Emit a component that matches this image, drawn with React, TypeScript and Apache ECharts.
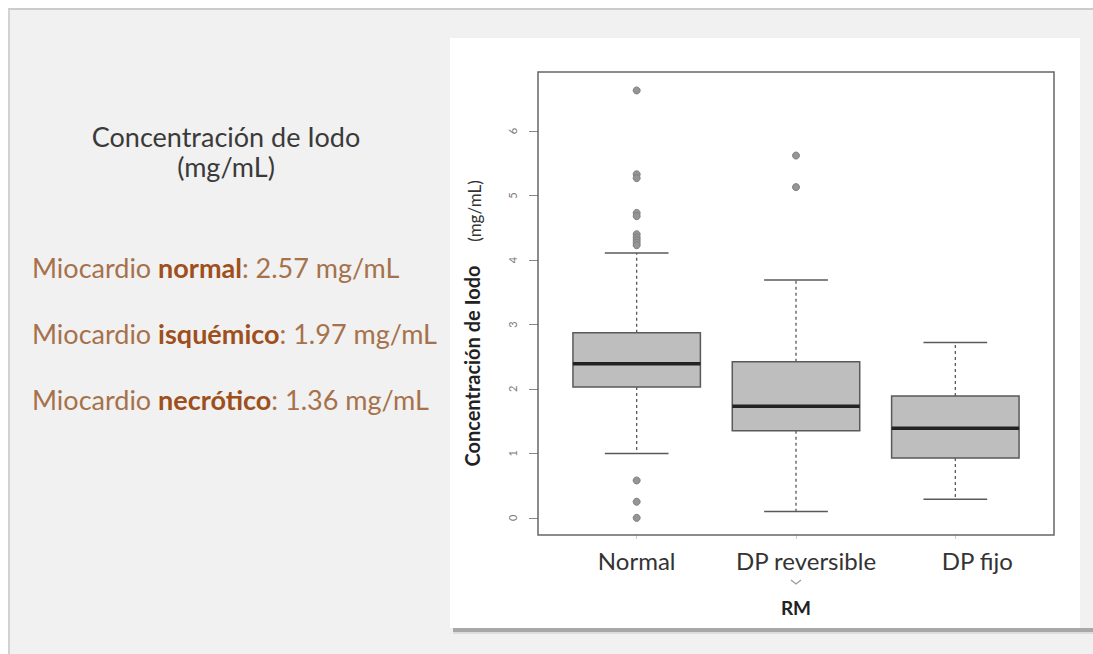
import React, { useEffect, useRef } from 'react';
import * as echarts from 'echarts';

// ---- data ----
const categories = ['Normal', 'DP reversible', 'DP fijo'];
const lowerWhisker = [1.0, 0.1, 0.29];
const q1 = [2.03, 1.35, 0.93];
const median = [2.39, 1.73, 1.39];
const q3 = [2.87, 2.42, 1.89];
const upperWhisker = [4.11, 3.69, 2.72];
const outlierGroup = [0, 0, 0, 0, 0, 0, 0, 0, 0, 0, 0, 0, 0, 1, 1];
const outlierValues = [6.63, 5.33, 5.27, 4.73, 4.68, 4.4, 4.35, 4.31, 4.27, 4.23, 0.58, 0.25, 0.0, 5.62, 5.13];
const yTicks = [0, 1, 2, 3, 4, 5, 6];
const yMin = -0.266;
const yMax = 6.916;
const summaryGroups = ['normal', 'isquémico', 'necrótico'];
const summaryMeans = ['2.57', '1.97', '1.36'];
const titleLines = ['Concentración de Iodo', '(mg/mL)'];
const yNameMain = 'Concentración de Iodo';
const yNameUnit = '(mg/mL)';
const xName = 'RM';

const FONT = 'Lato, "Open Sans", sans-serif';
// horizontal nudge (px) of each category label, as placed on the slide
const labelShift = [0, 10, 22];

export default function App() {
  const ref = useRef<HTMLDivElement>(null);
  useEffect(() => {
    if (!ref.current) return;
    const chart = echarts.init(ref.current, undefined, { renderer: 'svg' });

    const boxData = categories.map((_, i) => [i, lowerWhisker[i], q1[i], median[i], q3[i], upperWhisker[i]]);
    const outliers = outlierGroup.map((g, k) => [g, outlierValues[k]]);

    const labelRich: any = {};
    labelShift.forEach((s, i) => {
      labelRich['c' + i] = { fontSize: 24, color: '#333333', fontFamily: FONT, padding: [0, 0, 0, s * 2] };
    });

    const summaryTexts = summaryGroups.map((g, i) => ({
      type: 'text',
      x: 32,
      y: 267 + i * 66,
      z: 10,
      style: {
        text: `{n|Miocardio }{b|${g}}{n|: ${summaryMeans[i]} mg/mL}`,
        verticalAlign: 'middle',
        align: 'left',
        rich: {
          n: { fontSize: 27, fontFamily: FONT, fill: '#a6714b', color: '#a6714b' },
          b: { fontSize: 27, fontFamily: FONT, fontWeight: 'bold', fill: '#9e4f1c', color: '#9e4f1c' },
        },
      },
    }));

    const option: any = {
      animation: false,
      backgroundColor: '#ffffff',
      grid: { left: 557, right: 58, top: 72, bottom: 119, containLabel: false },
      xAxis: {
        type: 'category',
        data: categories,
        boundaryGap: true,
        axisLine: { show: false, onZero: false },
        axisTick: { show: true, length: 4, alignWithLabel: true, lineStyle: { color: '#cccccc' } },
        axisLabel: {
          interval: 0,
          hideOverlap: false,
          fontSize: 24,
          color: '#333333',
          fontFamily: FONT,
          margin: 13,
          formatter: (v: string, idx: number) => `{c${idx}|${v}}`,
          rich: labelRich,
        },
        splitLine: { show: false },
      },
      yAxis: {
        type: 'value',
        min: yMin,
        max: yMax,
        offset: 19,
        axisLine: { show: false },
        splitLine: { show: false },
        axisTick: { show: true, length: 9, customValues: yTicks, lineStyle: { color: '#888888' } },
        axisLabel: { customValues: yTicks, rotate: 90, fontSize: 11, color: '#7a7a7a', fontFamily: FONT, margin: 20 },
      },
      series: [
        {
          type: 'custom',
          data: boxData,
          encode: { x: 0, y: [1, 2, 3, 4, 5] },
          z: 3,
          renderItem: (params: any, api: any) => {
            const i = api.value(0);
            const bw = api.size([1, 0])[0];
            const boxHalf = bw * 0.4;
            const capHalf = bw * 0.2;
            const pLow = api.coord([i, api.value(1)]);
            const pQ1 = api.coord([i, api.value(2)]);
            const pMed = api.coord([i, api.value(3)]);
            const pQ3 = api.coord([i, api.value(4)]);
            const pHigh = api.coord([i, api.value(5)]);
            const cx = pMed[0];
            const stroke = '#5a5a5a';
            return {
              type: 'group',
              children: [
                { type: 'line', shape: { x1: cx, y1: pQ3[1], x2: cx, y2: pHigh[1] }, style: { stroke, lineWidth: 1.3, lineDash: [3, 3] } },
                { type: 'line', shape: { x1: cx, y1: pQ1[1], x2: cx, y2: pLow[1] }, style: { stroke, lineWidth: 1.3, lineDash: [3, 3] } },
                { type: 'line', shape: { x1: cx - capHalf, y1: pHigh[1], x2: cx + capHalf, y2: pHigh[1] }, style: { stroke, lineWidth: 1.5 } },
                { type: 'line', shape: { x1: cx - capHalf, y1: pLow[1], x2: cx + capHalf, y2: pLow[1] }, style: { stroke, lineWidth: 1.5 } },
                { type: 'rect', shape: { x: cx - boxHalf, y: pQ3[1], width: boxHalf * 2, height: pQ1[1] - pQ3[1] }, style: { fill: '#bebebe', stroke, lineWidth: 1.5 } },
                { type: 'line', shape: { x1: cx - boxHalf, y1: pMed[1], x2: cx + boxHalf, y2: pMed[1] }, style: { stroke: '#222222', lineWidth: 3.5 } },
              ],
            };
          },
        },
        {
          type: 'scatter',
          data: outliers,
          symbol: 'circle',
          symbolSize: 7,
          z: 4,
          itemStyle: { color: '#959595', borderColor: '#808080', borderWidth: 1, opacity: 1 },
        },
      ],
      graphic: [
        { type: 'rect', z: -10, shape: { x: 9, y: 9, width: 1084, height: 645 }, style: { fill: '#f1f1f1' } },
        { type: 'line', z: -9, shape: { x1: 8, y1: 9, x2: 1093, y2: 9 }, style: { stroke: '#cccccc', lineWidth: 2 } },
        { type: 'line', z: -9, shape: { x1: 9, y1: 9, x2: 9, y2: 654 }, style: { stroke: '#d2d2d2', lineWidth: 2 } },
        { type: 'rect', z: -9, shape: { x: 450, y: 38, width: 630, height: 590 }, style: { fill: '#ffffff' } },
        { type: 'rect', z: -8, shape: { x: 453, y: 628, width: 640, height: 4 }, style: { fill: '#a8a8a8' } },
        { type: 'rect', z: -8, shape: { x: 453, y: 632, width: 640, height: 2 }, style: { fill: '#dddddd' } },
        { type: 'rect', z: 5, shape: { x: 538, y: 72, width: 516, height: 463 }, style: { fill: 'none', stroke: '#666666', lineWidth: 1.5 } },
        {
          type: 'text', z: 10, x: 472, y: 366, rotation: Math.PI / 2,
          style: { text: yNameMain, fontSize: 20, fontWeight: 'bold', fontFamily: FONT, fill: '#222222', align: 'center', verticalAlign: 'middle' },
        },
        {
          type: 'text', z: 10, x: 474, y: 211, rotation: Math.PI / 2,
          style: { text: yNameUnit, fontSize: 17, fontFamily: FONT, fill: '#333333', align: 'center', verticalAlign: 'middle' },
        },
        {
          type: 'text', z: 10, x: 796, y: 607,
          style: { text: xName, fontSize: 19, fontWeight: 'bold', fontFamily: FONT, fill: '#222222', align: 'center', verticalAlign: 'middle' },
        },
        { type: 'polyline', z: 10, shape: { points: [[791, 580], [796, 584], [801, 580]] }, style: { stroke: '#999999', lineWidth: 1.2, fill: 'none' } },
        {
          type: 'text', z: 10, x: 226, y: 136,
          style: { text: titleLines[0], fontSize: 27, fontFamily: FONT, fill: '#3a3a3a', align: 'center', verticalAlign: 'middle' },
        },
        {
          type: 'text', z: 10, x: 226, y: 166,
          style: { text: titleLines[1], fontSize: 27, fontFamily: FONT, fill: '#3a3a3a', align: 'center', verticalAlign: 'middle' },
        },
        ...summaryTexts,
      ],
    };

    chart.setOption(option);
    return () => chart.dispose();
  }, []);

  return <div ref={ref} style={{ position: 'absolute', left: 0, top: 0, width: 1093, height: 654 }} />;
}
